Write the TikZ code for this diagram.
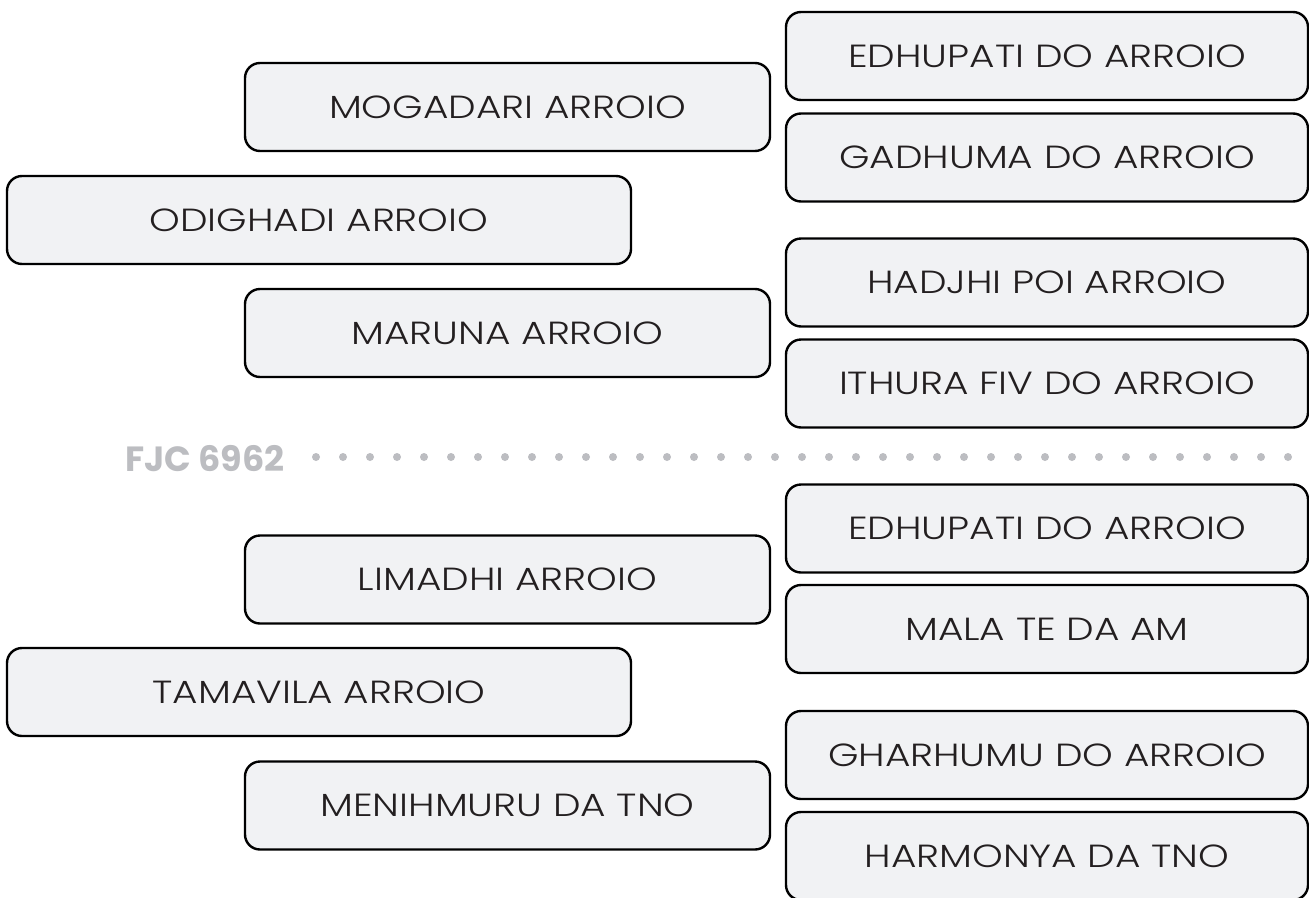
\documentclass[tikz,border=0pt]{standalone}
\usepackage{fontspec}
\setmainfont{Poppins}
\newfontfamily\boxfont{Poppins Light}[FakeStretch=1.22]
\definecolor{boxfill}{HTML}{F1F2F4}
\definecolor{dotgray}{HTML}{BCBDC1}
\definecolor{boxtext}{HTML}{231F20}
\begin{document}
\begin{tikzpicture}[x=1pt,y=-1pt,
  box/.style={draw=black, fill=boxfill, line width=2.4pt, rounded corners=15pt,
    inner sep=0pt, minimum height=88pt, text=boxtext,
    font=\boxfont\fontsize{32}{38}\selectfont},
  rbox/.style={box, minimum width=522pt},
  mbox/.style={box, minimum width=525pt},
  lbox/.style={box, minimum width=624pt},
  sep/.style={text=dotgray, font=\bfseries\fontsize{35}{40}\selectfont, inner sep=0pt}]
\useasboundingbox (0,0) rectangle (1309,897);
% upper group
\node[rbox] (e1) at (1047,56) {\raisebox{-4pt}{EDHUPATI DO ARROIO}};
\node[rbox] (g1) at (1047,157.5) {\raisebox{-4pt}{GADHUMA DO ARROIO}};
\node[rbox] (h1) at (1047,282.5) {\raisebox{-4pt}{HADJHI POI ARROIO}};
\node[rbox] (i1) at (1047,383.5) {\raisebox{-4pt}{ITHURA FIV DO ARROIO}};
\node[mbox] (mo) at (507.5,107) {\raisebox{-4pt}{MOGADARI ARROIO}};
\node[lbox] (od) at (319,220) {\raisebox{-4pt}{ODIGHADI ARROIO}};
\node[mbox] (ma) at (507.5,333) {\raisebox{-4pt}{MARUNA ARROIO}};
% separator
\node[sep, anchor=west] (fjc) at (125,459) {FJC 6962};
\foreach \i in {0,...,36} \fill[dotgray] (316+27*\i,457) circle (4);
% lower group
\node[rbox] (e2) at (1047,528.5) {\raisebox{-4pt}{EDHUPATI DO ARROIO}};
\node[rbox] (ml) at (1047,629) {\raisebox{-4pt}{MALA TE DA AM}};
\node[rbox] (gh) at (1047,755) {\raisebox{-4pt}{GHARHUMU DO ARROIO}};
\node[rbox] (ha) at (1047,856) {\raisebox{-4pt}{HARMONYA DA TNO}};
\node[mbox] (li) at (507.5,579.5) {\raisebox{-4pt}{LIMADHI ARROIO}};
\node[lbox] (ta) at (319,692) {\raisebox{-4pt}{TAMAVILA ARROIO}};
\node[mbox] (me) at (507.5,805.5) {\raisebox{-4pt}{MENIHMURU DA TNO}};
\end{tikzpicture}
\end{document}
